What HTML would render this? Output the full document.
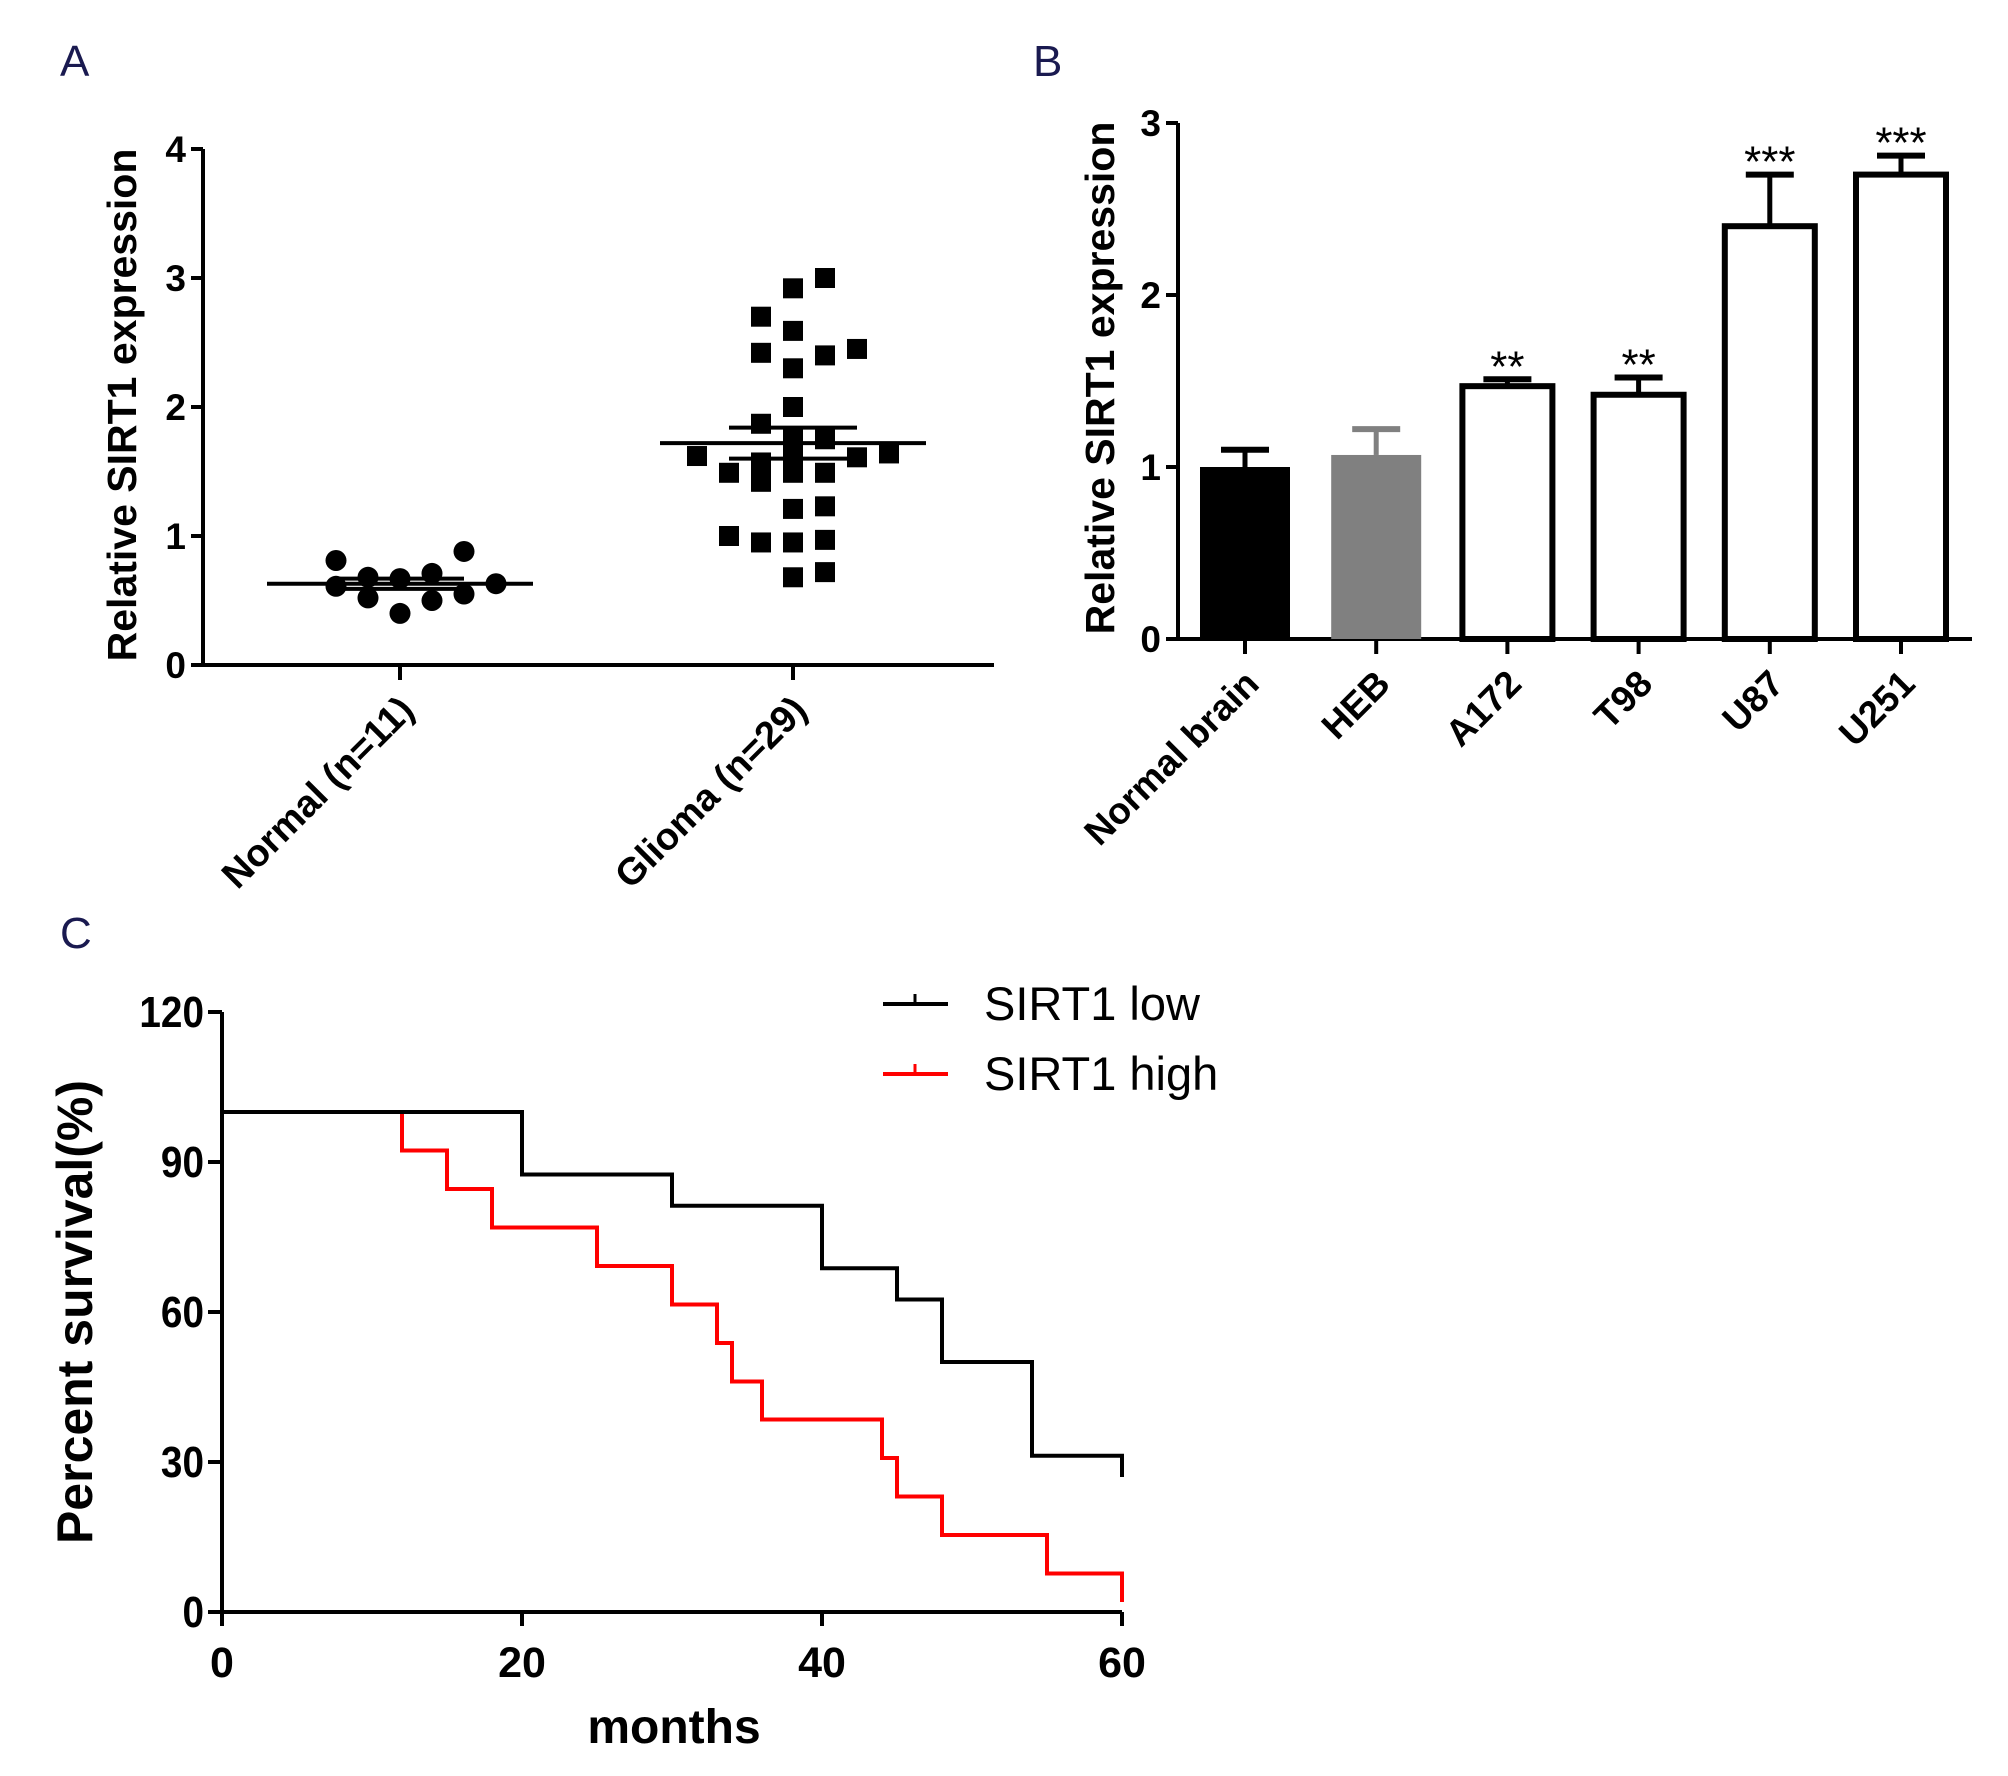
<!DOCTYPE html>
<html><head><meta charset="utf-8"><style>
html,body{margin:0;padding:0;background:#fff;}
svg{display:block;font-family:"Liberation Sans",Arial,sans-serif;}
</style></head><body>
<svg id="fig" width="2008" height="1776" viewBox="0 0 2008 1776" xmlns="http://www.w3.org/2000/svg"></svg>
<script>
// Panel A data
const normalVals = [0.81,0.61,0.68,0.52,0.67,0.40,0.71,0.50,0.88,0.55,0.63];
const normalCols = [-2,-2,-1,-1,0,0,1,1,2,2,3];
const gliomaVals = [3.0,2.92,2.70,2.59,2.42,2.40,2.45,2.30,2.0,1.87,1.75,1.75,1.62,1.64,1.61,1.49,1.42,1.49,1.49,1.64,1.57,1.21,1.23,1.0,0.95,0.95,0.97,0.68,0.72];
const gliomaCols = [1,0,-1,0,-1,1,2,0,0,-1,0,1,-3,3,2,-2,-1,0,1,0,-1,0,1,-2,-1,0,1,0,1];
const groupMeans = [0.63,1.72];
const groupSem = [0.04,0.12];
const groupLabels = ["Normal (n=11)","Glioma (n=29)"];
const aTicks = [0,1,2,3,4];
// Panel B data
const cellLines = ["Normal brain","HEB","A172","T98","U87","U251"];
const cellVals = [1.0,1.07,1.47,1.42,2.40,2.70];
const cellErr = [0.10,0.15,0.04,0.10,0.30,0.11];
const cellStars = ["","","**","**","***","***"];
const bTicks = [0,1,2,3];
// Panel C data
const lowTimes = [0,20,30,40,45,48,54,60];
const lowSurv = [100,87.5,81.25,68.75,62.5,50,31.25,31.25];
const highTimes = [0,12,15,18,25,30,33,34,36,44,45,48,55,60];
const highSurv = [100,92.3,84.6,76.9,69.2,61.5,53.8,46.1,38.5,30.8,23.1,15.4,7.7,7.7];
const cYTicks = [0,30,60,90,120];
const cXTicks = [0,20,40,60];

const svg = document.getElementById('fig');
const NS = 'http://www.w3.org/2000/svg';
function mk(tag, attrs, parent, text){
  const e = document.createElementNS(NS, tag);
  for (const k in attrs) e.setAttribute(k, attrs[k]);
  if (text !== undefined) e.textContent = text;
  (parent||svg).appendChild(e);
  return e;
}

// panel letters
[["A",60,76],["B",1033,76],["C",60,948]].forEach(([t,x,y])=>{
  const e = mk('text',{x:x,y:y,'font-size':44,fill:'#1a1a50'},svg,t);
  
  
});

// ===== Panel A =====
const gA = mk('g',{});


const ayA = v => 665 - v*129;
const axA = [400, 793];
const colW = 32;
mk('path',{d:`M203 ${ayA(4)} V665 H994`,stroke:'#000','stroke-width':4,fill:'none'},gA);
aTicks.forEach(t=>{
  mk('line',{x1:191,x2:203,y1:ayA(t),y2:ayA(t),stroke:'#000','stroke-width':4},gA);
  const e = mk('text',{x:186,y:ayA(t)+13,'font-size':37,'font-weight':'bold','text-anchor':'end'},gA,String(t));
  
  
});
const at = mk('text',{x:0,y:0,'font-size':41,'font-weight':'bold','text-anchor':'middle',transform:'translate(136,405) rotate(-90)'},gA,'Relative SIRT1 expression');


groupLabels.forEach((l,i)=>{
  mk('line',{x1:axA[i],x2:axA[i],y1:665,y2:680,stroke:'#000','stroke-width':4},gA);
  const e = mk('text',{x:0,y:0,'font-size':38,'font-weight':'bold','text-anchor':'end',transform:`translate(${axA[i]+16},${712}) rotate(-45)`},gA,l);
  
  
});
normalVals.forEach((v,i)=>{
  const c = mk('circle',{cx:axA[0]+normalCols[i]*colW,cy:ayA(v),r:10.5,fill:'#000'},gA);
  
  
});
gliomaVals.forEach((v,i)=>{
  const r = mk('rect',{x:axA[1]+gliomaCols[i]*colW-10,y:ayA(v)-10,width:20,height:20,fill:'#000'},gA);
  
  
});
groupMeans.forEach((m,i)=>{
  const half = 133;
  const ml = mk('line',{x1:axA[i]-half,x2:axA[i]+half,y1:ayA(m),y2:ayA(m),stroke:'#000','stroke-width':4},gA);
  
  
  const cap = 64;
  mk('line',{x1:axA[i],x2:axA[i],y1:ayA(m+groupSem[i]),y2:ayA(m-groupSem[i]),stroke:'#000','stroke-width':4},gA);
  [m+groupSem[i],m-groupSem[i]].forEach(v=>{
    mk('line',{x1:axA[i]-cap,x2:axA[i]+cap,y1:ayA(v),y2:ayA(v),stroke:'#000','stroke-width':4},gA);
  });
});

// ===== Panel B =====
const gB = mk('g',{});


const ayB = v => 639 - v*172;
const bx0 = 1245, bStep = 131.2, bW = 90;
mk('path',{d:`M1178 ${ayB(3)} V639 H1972`,stroke:'#000','stroke-width':4,fill:'none'},gB);
bTicks.forEach(t=>{
  mk('line',{x1:1166,x2:1178,y1:ayB(t),y2:ayB(t),stroke:'#000','stroke-width':4},gB);
  const e = mk('text',{x:1161,y:ayB(t)+13,'font-size':37,'font-weight':'bold','text-anchor':'end'},gB,String(t));
  
  
});
const bt = mk('text',{x:0,y:0,'font-size':41,'font-weight':'bold','text-anchor':'middle',transform:'translate(1114,378) rotate(-90)'},gB,'Relative SIRT1 expression');


const fills = ['#000','#808080','#fff','#fff','#fff','#fff'];
cellLines.forEach((l,i)=>{
  const cx = bx0 + i*bStep;
  const col = i===1 ? '#808080' : '#000';
  const top = ayB(cellVals[i]+cellErr[i]);
  mk('line',{x1:cx,x2:cx,y1:ayB(cellVals[i]),y2:top,stroke:col,'stroke-width':5},gB);
  mk('line',{x1:cx-24,x2:cx+24,y1:top,y2:top,stroke:col,'stroke-width':6},gB);
  const r = mk('rect',{x:cx-bW/2,y:ayB(cellVals[i]),width:bW,height:639-ayB(cellVals[i]),fill:fills[i],stroke:col,'stroke-width':i<2?0:6},gB);
  
  
  if (cellStars[i]) {
    const s = mk('text',{x:cx,y:top+2,'font-size':44,'text-anchor':'middle'},gB,cellStars[i]);
    
    
  }
  mk('line',{x1:cx,x2:cx,y1:639,y2:654,stroke:'#000','stroke-width':4},gB);
  const e = mk('text',{x:0,y:0,'font-size':37,'font-weight':'bold','text-anchor':'end',transform:`translate(${cx+16},${686}) rotate(-45)`},gB,l);
  
  
});

// ===== Panel C =====
const gC = mk('g',{});


const axC = t => 222 + t*(900/60);
const ayC = v => 1612 - v*5;
mk('path',{d:`M222 ${ayC(120)} V1612 H${axC(60)}`,stroke:'#000','stroke-width':4,fill:'none'},gC);
cYTicks.forEach(t=>{
  mk('line',{x1:208,x2:222,y1:ayC(t),y2:ayC(t),stroke:'#000','stroke-width':4},gC);
  const e = mk('text',{x:204,y:ayC(t)+15,'font-size':44,'font-weight':'bold','text-anchor':'end',transform:`translate(${204*0.12},0) scale(0.88,1)`},gC,String(t));
  
  
});
cXTicks.forEach(t=>{
  mk('line',{x1:axC(t),x2:axC(t),y1:1612,y2:1626,stroke:'#000','stroke-width':4},gC);
  const e = mk('text',{x:axC(t),y:1677,'font-size':43,'font-weight':'bold','text-anchor':'middle'},gC,String(t));
  
  
});
const cxT = mk('text',{x:674,y:1743,'font-size':48,'font-weight':'bold','text-anchor':'middle'},gC,'months');


const cyT = mk('text',{x:0,y:0,'font-size':50,'font-weight':'bold','text-anchor':'middle',transform:'translate(92,1312) rotate(-90)'},gC,'Percent survival(%)');


function kmPath(times, surv){
  let d = `M${axC(times[0])} ${ayC(surv[0])}`;
  for (let i=1;i<times.length;i++){
    d += ` H${axC(times[i])} V${ayC(surv[i])}`;
  }
  return d;
}
const hp = mk('path',{d:kmPath(highTimes,highSurv)+` V${ayC(2)}`,stroke:'#ff0000','stroke-width':4,fill:'none'},gC);


const lp = mk('path',{d:kmPath(lowTimes,lowSurv)+` V${ayC(27)}`,stroke:'#000','stroke-width':4,fill:'none'},gC);


// legend
const lg = mk('g',{},gC);


[['SIRT1 low','#000',1004],['SIRT1 high','#ff0000',1074]].forEach(([t,c,y])=>{
  mk('line',{x1:883,x2:948,y1:y,y2:y,stroke:c,'stroke-width':4},lg);
  mk('line',{x1:915,x2:915,y1:y-10,y2:y,stroke:c,'stroke-width':3},lg);
  const e = mk('text',{x:984,y:y+16,'font-size':47},lg,t);
  
  
});
</script>
</body></html>
